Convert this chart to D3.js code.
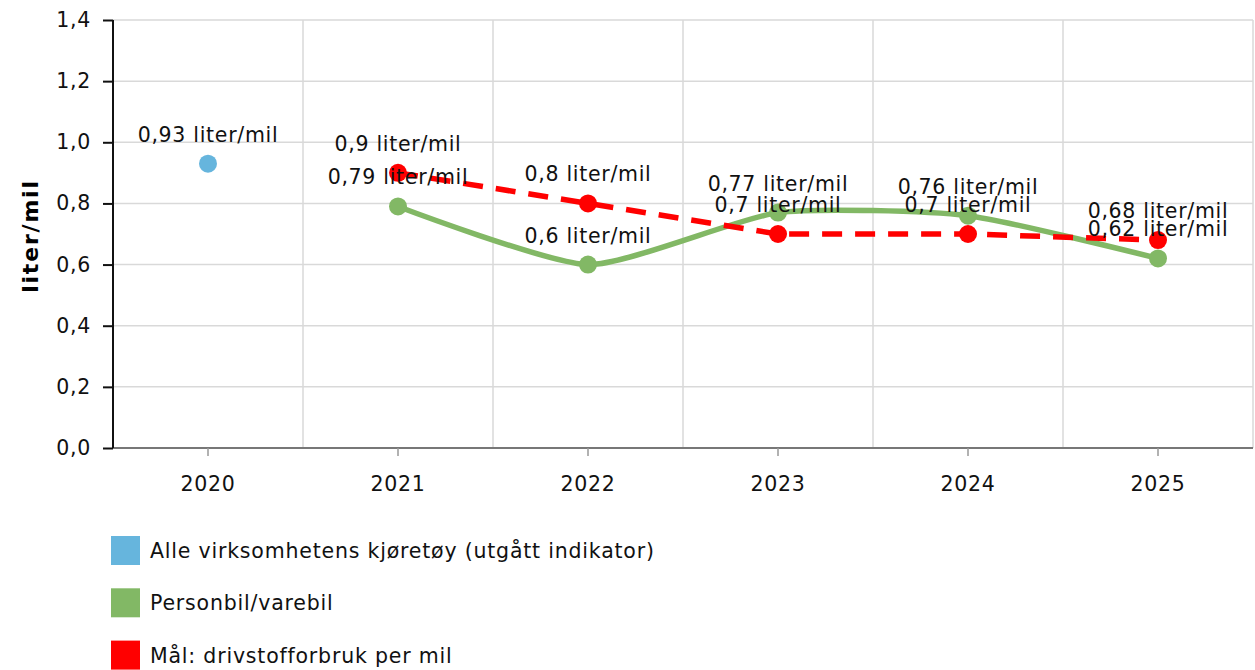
<!DOCTYPE html>
<html><head><meta charset="utf-8">
<script src="https://cdn.jsdelivr.net/npm/d3@7"></script>
<style>body{margin:0;background:#fff}svg{display:block;font-family:"DejaVu Sans",Verdana,sans-serif}</style>
</head><body>
<svg id="c" width="1255" height="670"></svg>
<script>
const categories = ["2020","2021","2022","2023","2024","2025"];
const yTicks = [0,0.2,0.4,0.6,0.8,1.0,1.2,1.4];
const seriesNames = ["Alle virksomhetens kjøretøy (utgått indikator)","Personbil/varebil","Mål: drivstofforbruk per mil"];
const seriesColors = ["#66b5dd","#82b865","#ff0000"];
const alleValues = [0.93,null,null,null,null,null];
const personbilValues = [null,0.79,0.6,0.77,0.76,0.62];
const maalValues = [null,0.9,0.8,0.7,0.7,0.68];
const unit = " liter/mil";

const FS = 20.5, LS = "0.7px";
const svg = d3.select("#c");
const L=113,R=1253,T=20,B=448;
const x = d3.scaleBand().domain(categories).range([L,R]);
const y = d3.scaleLinear().domain([0,1.4]).range([B,T]);
const fmt = v => String(v).replace(".",",");

// grid
const g = svg.append("g");
g.selectAll(".hg").data(yTicks.slice(1)).join("line")
 .attr("x1",L).attr("x2",R).attr("y1",d=>y(d)).attr("y2",d=>y(d))
 .attr("stroke","#d9d9d9").attr("stroke-width",1.5);
g.selectAll(".vg").data(categories.slice(1).concat(["end"])).join("line")
 .attr("x1",(d,i)=>L+x.step()*(i+1)).attr("x2",(d,i)=>L+x.step()*(i+1))
 .attr("y1",T).attr("y2",B).attr("stroke","#d9d9d9").attr("stroke-width",1.5);

// x axis
const xa = svg.append("g").attr("transform",`translate(0,${B})`)
 .call(d3.axisBottom(x).tickSize(8).tickPadding(20));
xa.select(".domain").attr("stroke","#777").attr("stroke-width",2).attr("d",`M${L},0H${R}`);
xa.selectAll(".tick line").attr("stroke","#999").attr("stroke-width",1.5);
xa.selectAll("text").attr("font-size",FS).attr("letter-spacing",LS).attr("fill","#111").attr("font-family","DejaVu Sans");

// y axis
const ya = svg.append("g").attr("transform",`translate(${L},0)`)
 .call(d3.axisLeft(y).tickValues(yTicks).tickFormat(d=>d3.format(".1f")(d).replace(".",",")).tickSize(10).tickPadding(12));
ya.select(".domain").attr("stroke","#111").attr("stroke-width",2).attr("d",`M0,${T}V${B}`);
ya.selectAll(".tick line").attr("stroke","#111").attr("stroke-width",2);
ya.selectAll("text").attr("font-size",FS).attr("letter-spacing",LS).attr("fill","#111").attr("font-family","DejaVu Sans");

svg.append("text").attr("transform",`translate(38,${(T+B)/2+2}) rotate(-90)`)
 .attr("text-anchor","middle").attr("font-weight","bold").attr("font-size",22).attr("letter-spacing","1.8px").text("liter/mil");

const cx = c => x(c)+x.bandwidth()/2;
function pts(vals){return categories.map((c,i)=>({c,v:vals[i]})).filter(d=>d.v!=null);}

// green line
const gp = pts(personbilValues);
svg.append("path").datum(gp).attr("fill","none").attr("stroke",seriesColors[1]).attr("stroke-width",5.5)
 .attr("d",d3.line().x(d=>cx(d.c)).y(d=>y(d.v)).curve(d3.curveCardinal.tension(0.4)));
// red dashed
const rp = pts(maalValues);
svg.append("path").datum(rp).attr("fill","none").attr("stroke",seriesColors[2]).attr("stroke-width",5.5)
 .attr("stroke-dasharray","20,13")
 .attr("d",d3.line().x(d=>cx(d.c)).y(d=>y(d.v)));

const bp = pts(alleValues);
[[bp,0],[gp,1],[rp,2]].forEach(([p,i])=>{
 svg.append("g").selectAll("circle").data(p).join("circle")
  .attr("cx",d=>cx(d.c)).attr("cy",d=>y(d.v)).attr("r",9).attr("fill",seriesColors[i]);
});
[[bp,0],[gp,1],[rp,2]].forEach(([p,i])=>{
 svg.append("g").selectAll("text").data(p).join("text")
  .attr("x",d=>cx(d.c)).attr("y",d=>y(d.v)-22).attr("text-anchor","middle")
  .attr("font-size",FS).attr("letter-spacing",LS).attr("fill","#111").text(d=>fmt(d.v)+unit);
});

// legend
const lg = svg.append("g");
seriesNames.forEach((n,i)=>{
 const yy = 536 + i*52.3;
 lg.append("rect").attr("x",111).attr("y",yy).attr("width",29).attr("height",29).attr("fill",seriesColors[i]);
 lg.append("text").attr("x",150).attr("y",yy+22).attr("font-size",FS).attr("letter-spacing","0.8px").attr("fill","#111").text(n);
});
</script>
</body></html>
